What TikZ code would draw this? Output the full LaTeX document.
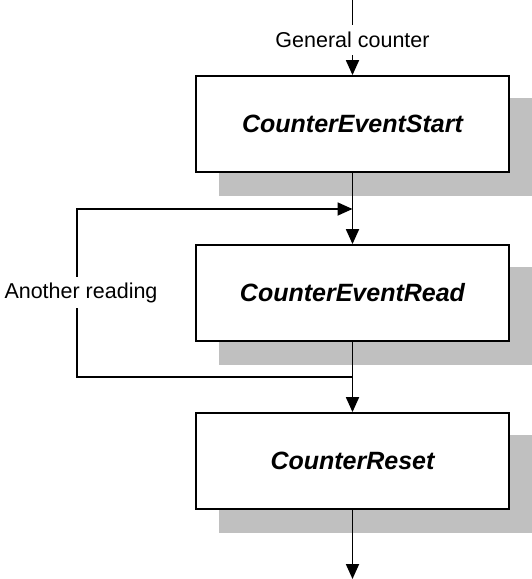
\documentclass[tikz,border=0pt]{standalone}
\usepackage{fontspec}
\setmainfont{Liberation Sans}
\usetikzlibrary{arrows.meta,calc,backgrounds}
\definecolor{shadowgray}{RGB}{192,192,192}
\begin{document}
\begin{tikzpicture}[x=1pt,y=-1pt,
  proc/.style={draw=black, line width=1.8pt, fill=white, minimum width=313pt, minimum height=96pt, inner sep=0pt, font=\fontsize{25}{29}\selectfont\bfseries\itshape},
  flow/.style={line width=1.8pt, -{Triangle[length=15pt,width=13pt]}},
  wire/.style={line width=1.8pt},
  lbl/.style={fill=white, inner sep=0pt, font=\fontsize{21.5}{25}\selectfont}]
\useasboundingbox (0,0) rectangle (532,579);
% boxes
\node[proc] (b1) at (352.5,124) {CounterEventStart};
\node[proc] (b2) at (352.5,293) {CounterEventRead};
\node[proc] (b3) at (352.5,461) {CounterReset};
% shadows
\begin{scope}[on background layer]
\foreach \b in {b1,b2,b3}
  \fill[shadowgray] ($(\b.south west)+(24,23)$) rectangle ($(\b.north east)+(24,23)$);
\end{scope}
% helper points
\coordinate (top) at (352.5,0);
\coordinate (j1) at (352.5,209);
\coordinate (j2) at (352.5,377);
\coordinate (c1) at (77,377);
\coordinate (c2) at (77,209);
\coordinate (bot) at (352.5,579);
% top label and entry
\node[lbl, minimum height=30pt] (gc) at (352.5,40) {General counter};
\draw[wire] (top) -- (gc);
\draw[flow] (gc) -- (b1);
% main flow
\draw[wire] (b1) -- (j1);
\draw[flow] (j1) -- (b2);
\draw[wire] (b2) -- (j2);
\draw[flow] (j2) -- (b3);
\draw[flow] (b3) -- (bot);
% loop
\draw[flow] (j2) -- (c1) -- (c2) -- (j1);
\node[lbl, minimum height=31pt] (ar) at (81,292.5) {Another reading};
\end{tikzpicture}
\end{document}
